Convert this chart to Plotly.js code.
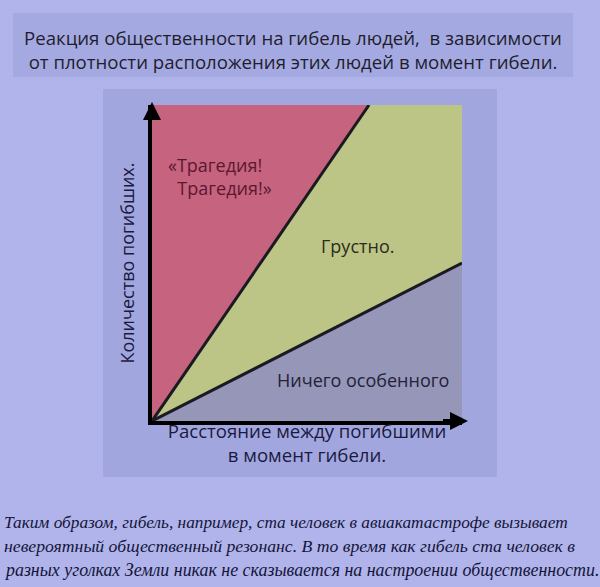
<!DOCTYPE html>
<html>
<head>
<meta charset="utf-8">
<script src="https://cdn.plot.ly/plotly-3.0.1.min.js"></script>
<style>html,body{margin:0;padding:0;background:#b0b4ea;}#chart{width:600px;height:587px;}</style>
</head>
<body>
<div id="chart"></div>
<script>
// Region boundaries (data units, axes 0..10)
const tragedyX = [0, 0, 7, 0];
const tragedyY = [0, 10, 10, 0];
const sadX = [0, 7, 10, 10, 0];
const sadY = [0, 10, 10, 5, 0];
const nothingX = [0, 10, 10, 0];
const nothingY = [0, 5, 0, 0];
const boundary1X = [0, 7];
const boundary1Y = [0, 10];
const boundary2X = [0, 10];
const boundary2Y = [0, 5];
const tragedyLabel = "«Трагедия!<br>&nbsp;&nbsp;Трагедия!»";
const sadLabel = "Грустно.";
const nothingLabel = "Ничего особенного";
const titleText = "Реакция общественности на гибель людей,  в зависимости<br>от плотности расположения этих людей в момент гибели.";
const xTitle = "Расстояние между погибшими<br>в момент гибели.";
const yTitle = "Количество погибших.";
const footLines = [
  "Таким образом, гибель, например, ста человек в авиакатастрофе вызывает",
  "невероятный общественный резонанс. В то время как гибель ста человек в",
  "разных уголках Земли никак не сказывается на настроении общественности."
];

const L = 152, R = 462, T = 105, B = 421;
const W = 600, H = 587;
const px = v => (v - L) / (R - L);
const py = v => (B - v) / (B - T);

const traces = [
  {x: tragedyX, y: tragedyY, type: 'scatter', mode: 'none', fill: 'toself', fillcolor: '#c6637f', hoverinfo: 'skip'},
  {x: sadX, y: sadY, type: 'scatter', mode: 'none', fill: 'toself', fillcolor: '#bcc486', hoverinfo: 'skip'},
  {x: nothingX, y: nothingY, type: 'scatter', mode: 'none', fill: 'toself', fillcolor: '#9596b8', hoverinfo: 'skip'},
  {x: boundary1X, y: boundary1Y, type: 'scatter', mode: 'lines', line: {color: '#1a1a22', width: 3}, hoverinfo: 'skip'},
  {x: boundary2X, y: boundary2Y, type: 'scatter', mode: 'lines', line: {color: '#1a1a22', width: 3}, hoverinfo: 'skip'}
];

const labelFont = {family: 'Open Sans, sans-serif', size: 18};
const lbl = (x, y, text, color) => ({
  x: px(x), y: py(y), xref: 'paper', yref: 'paper', xanchor: 'center', yanchor: 'middle',
  text: text, showarrow: false, font: Object.assign({}, labelFont, {color: color})
});
const tragedyAnn = lbl(166, 176, tragedyLabel, '#5c1830');
tragedyAnn.xanchor = 'left';
tragedyAnn.align = 'left';
const annotations = [
  tragedyAnn,
  lbl(357, 246, sadLabel, '#2c2c20'),
  lbl(363, 380, nothingLabel, '#222238'),
  // axis arrowheads
  {x: px(468), y: 0, ax: px(440), ay: 0, xref: 'paper', yref: 'paper', axref: 'paper', ayref: 'paper', text: ' ', showarrow: true, arrowhead: 2, arrowsize: 0.9, arrowwidth: 4, arrowcolor: '#000'},
  {x: 0, y: py(102), ax: 0, ay: py(130), xref: 'paper', yref: 'paper', axref: 'paper', ayref: 'paper', text: ' ', showarrow: true, arrowhead: 2, arrowsize: 0.9, arrowwidth: 4, arrowcolor: '#000'}
];
const footY = [522, 546, 570];
const footSize = [17.3, 17.7, 17.9];
footLines.forEach((t, i) => annotations.push({
  x: px(2), y: py(footY[i]), xref: 'paper', yref: 'paper', xanchor: 'left', yanchor: 'middle',
  text: t, showarrow: false, font: {family: 'Liberation Serif, serif', size: footSize[i], style: 'italic', color: '#14143a'}
}));

const layout = {
  width: W, height: H,
  margin: {l: L, r: W - R, t: T, b: H - B, pad: 0},
  paper_bgcolor: '#b0b4ea',
  plot_bgcolor: 'rgba(0,0,0,0)',
  showlegend: false,
  title: {
    text: titleText,
    font: {family: 'Open Sans, sans-serif', size: 18.6, color: '#1e1e2c'},
    x: 293 / W, xanchor: 'center', y: 1 - 45 / H, yanchor: 'middle'
  },
  xaxis: {
    range: [0, 10], showgrid: false, zeroline: false, showticklabels: false, ticks: '', fixedrange: true,
    showline: true, linecolor: '#000', linewidth: 4,
    title: {text: xTitle, font: {family: 'Open Sans, sans-serif', size: 18.6, color: '#1a1a40'}, standoff: 2}
  },
  yaxis: {
    range: [0, 10], showgrid: false, zeroline: false, showticklabels: false, ticks: '', fixedrange: true,
    showline: true, linecolor: '#000', linewidth: 4,
    title: {text: yTitle, font: {family: 'Open Sans, sans-serif', size: 18, color: '#1a1a40'}, standoff: 10}
  },
  shapes: [
    {type: 'rect', xref: 'paper', yref: 'paper', x0: px(13), x1: px(573), y0: py(77), y1: py(13), fillcolor: '#a5a9e2', line: {width: 0}, layer: 'below'},
    {type: 'rect', xref: 'paper', yref: 'paper', x0: px(103), x1: px(497), y0: py(477), y1: py(89), fillcolor: '#a2a6df', line: {width: 0}, layer: 'below'}
  ],
  annotations: annotations
};

Plotly.newPlot('chart', traces, layout, {staticPlot: true, displayModeBar: false});
</script>
</body>
</html>
